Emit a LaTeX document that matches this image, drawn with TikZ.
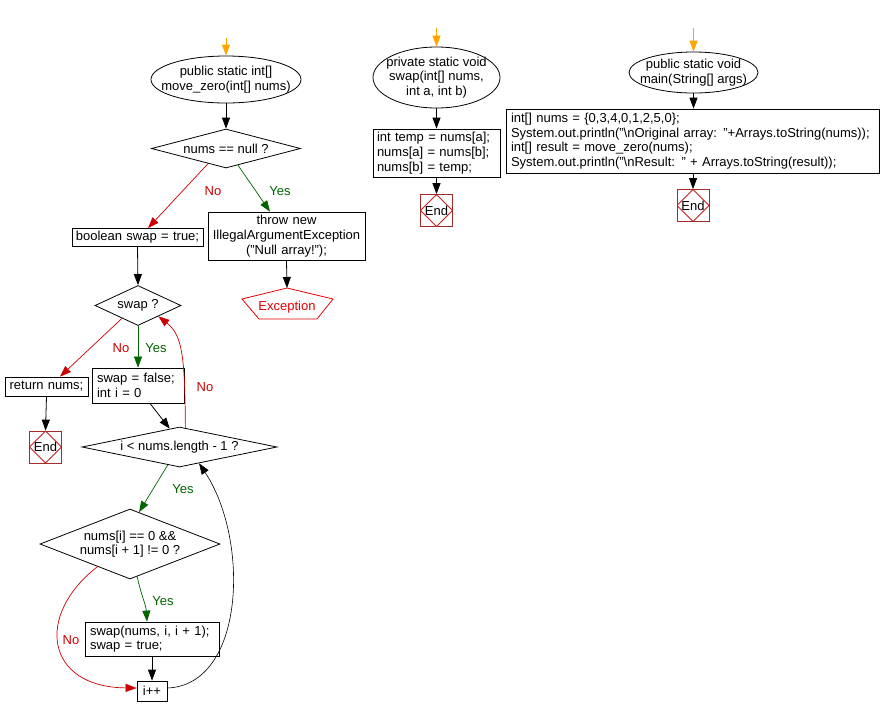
\documentclass[tikz,border=0pt]{standalone}
\usepackage{fontspec}
\setmainfont{Liberation Sans}
\usetikzlibrary{shapes.geometric,arrows.meta,calc}
\definecolor{nored}{RGB}{204,0,0}
\definecolor{yesgreen}{RGB}{0,100,0}
\definecolor{startorange}{RGB}{255,165,0}
\definecolor{endbrown}{RGB}{165,42,42}
\definecolor{endred}{RGB}{200,30,30}
\definecolor{excred}{RGB}{230,0,0}
\tikzset{
  every node/.style={font=\fontsize{13}{14.7}\selectfont},
  ell/.style 2 args={ellipse, draw, line width=0.8pt, minimum width=#1, minimum height=#2, inner sep=0},
  dia/.style 2 args={diamond, draw, line width=0.8pt, minimum width=#1, minimum height=#2, inner sep=0},
  inlbl/.style={align=center, inner sep=0},
  box/.style={rectangle, draw, line width=0.8pt, inner ysep=0pt},
  lbox/.style={box, align=left},
  cbox/.style={box, align=center, inner xsep=3pt},
  endbox/.style={rectangle, draw=endbrown, line width=0.8pt, minimum size=32pt, inner sep=0,
    path picture={\draw[endred, line width=0.8pt] (path picture bounding box.north) -- (path picture bounding box.east) -- (path picture bounding box.south) -- (path picture bounding box.west) -- cycle;}},
  tip/.style={-{Triangle[length=11pt,width=8pt]}},
  flow/.style={tip, line width=0.8pt, black},
  noflow/.style={tip, line width=0.7pt, nored},
  yesflow/.style={tip, line width=0.7pt, yesgreen},
  startflow/.style={tip, line width=1pt, startorange},
  nolbl/.style={text=nored, inner sep=0},
  yeslbl/.style={text=yesgreen, inner sep=0},
}
\begin{document}
\begin{tikzpicture}[x=1pt,y=-1pt]
\useasboundingbox[fill=white] (0,0) rectangle (882,716);

% ---------- left flow: move_zero ----------
\coordinate (s1) at (226,38);
\node[ell={150pt}{47pt}] (m1) at (226,79.5) {};
\node[inlbl] (m1t) at (m1.center) {public static int[]\\move\_zero(int[] nums)};
\node[dia={149pt}{39pt}] (d1) at (226,148.5) {};
\node[inlbl] (d1t) at (d1.center) {nums == null ?};
\node[cbox, text width=125pt, minimum height=18pt] (b1) at (137.5,237.5) {boolean swap = true;};
\node[cbox, text width=151pt, minimum height=48pt] (t1) at (286.5,236) {throw new\\IllegalArgumentException\\("Null array!");};
\coordinate (exTop) at (287,288);
\draw[excred, line width=0.8pt] (exTop) -- (333,299) -- (317,319) -- (259,319) -- (242,299) -- cycle;
\node[text=excred, inner sep=0] (ex) at (287,307) {Exception};

\node[dia={86pt}{40pt}] (d2) at (138,305.5) {};
\node[inlbl] (d2t) at (d2.center) {swap ?};
\node[cbox, text width=77pt, minimum height=19pt] (r1) at (46.5,386.5) {return nums;};
\node[endbox] (e1) at (45.5,447) {};
\node[inlbl] (e1t) at (e1.center) {End};
\node[lbox, inner xsep=5pt, text width=82pt, minimum height=35pt] (b2) at (138,385.5) {swap = false;\\int i = 0};

\node[dia={195pt}{40pt}] (d3) at (179.5,447) {};
\node[inlbl] (d3t) at (d3.center) {i < nums.length - 1 ?};
\node[dia={180pt}{70pt}] (d4) at (130,544) {};
\node[inlbl] (d4t) at (d4.center) {nums[i] == 0 \&\&\\nums[i + 1] != 0 ?};
\node[lbox, inner xsep=5pt, text width=124pt, minimum height=34pt] (b3) at (152,639) {swap(nums, i, i + 1);\\swap = true;};
\node[cbox, text width=24pt, minimum height=20pt] (inc) at (152,691) {i++};

\draw[startflow] (s1) -- (m1.north);
\draw[flow] (m1.south) -- (d1.north);
\draw[noflow] ($(d1.south)!0.24!(d1.west)$) -- ($(b1.north)+(10.5,0)$);
\draw[yesflow] ($(d1.south)!0.16!(d1.east)$) -- ($(t1.north)+(-16.5,0)$);
\node[nolbl] (l1) at (213,191.5) {No};
\node[yeslbl] (l2) at (280,191.5) {Yes};
\draw[flow] (t1.south) -- (exTop);
\draw[flow] (b1.south) -- (d2.north);
\draw[noflow] ($(d2.south)!0.37!(d2.west)$) -- ($(r1.north)+(13.5,0)$);
\draw[yesflow] (d2.south) -- (b2.north);
\node[nolbl] (l3) at (121,348) {No};
\node[yeslbl] (l4) at (156,348) {Yes};
\draw[flow] (r1.south) -- (e1.north);
\draw[flow] ($(b2.south)+(12,0)$) -- ($(d3.north)!0.1!(d3.west)$);
\draw[noflow] ($(d3.north)!0.06!(d3.east)$) .. controls (185,355) and (182,335) .. ($(d2.south)!0.47!(d2.east)$);
\node[nolbl] (l5) at (205,387) {No};
\draw[yesflow] ($(d3.south)!0.12!(d3.west)$) -- ($(d4.north)!0.1!(d4.east)$);
\node[yeslbl] (l6) at (183,489) {Yes};
\draw[yesflow] ($(d4.south)!0.08!(d4.east)$) .. controls (141,595) and (146,605) .. ($(b3.north)+(-5,0)$);
\node[yeslbl] (l7) at (163,601) {Yes};
\draw[flow] (b3.south) -- (inc.north);
\draw[noflow] ($(d4.south)!0.36!(d4.west)$) .. controls (35,615) and (45,687) .. ($(inc.west)+(0,-3)$);
\node[nolbl] (l8) at (71,640) {No};
\draw[flow, line width=0.6pt] ($(inc.east)+(0,-3)$) .. controls (245,685) and (250,540) .. ($(d3.south)!0.2!(d3.east)$);

% ---------- middle flow: swap ----------
\coordinate (s2) at (436.5,28);
\node[ell={127pt}{61pt}] (m2) at (436.5,77.5) {};
\node[inlbl] (m2t) at (m2.center) {private static void\\swap(int[] nums,\\int a, int b)};
\node[lbox, inner xsep=4pt, text width=119pt, minimum height=48pt] (b4) at (436.5,153) {int temp = nums[a];\\nums[a] = nums[b];\\nums[b] = temp;};
\node[endbox] (e2) at (436.5,210.5) {};
\node[inlbl] (e2t) at (e2.center) {End};
\draw[startflow] (s2) -- (m2.north);
\draw[flow] (m2.south) -- (b4.north);
\draw[flow] (b4.south) -- (e2.north);

% ---------- right flow: main ----------
\coordinate (s3) at (693.5,28);
\node[ell={129pt}{41pt}] (m3) at (693.5,72.5) {};
\node[inlbl] (m3t) at (m3.center) {public static void\\main(String[] args)};
\node[lbox, inner xsep=5pt, text width=363pt, minimum height=64pt] (b5) at (692.5,141) {\mbox{int[] nums = \{0,3,4,0,1,2,5,0\};}\\\mbox{System.out.println("\textbackslash nOriginal array: "+Arrays.toString(nums));}\\\mbox{int[] result = move\_zero(nums);}\\\mbox{System.out.println("\textbackslash nResult: " + Arrays.toString(result));}};
\node[endbox] (e3) at (693,205.5) {};
\node[inlbl] (e3t) at (e3.center) {End};
\draw[startflow] (s3) -- (m3.north);
\draw[flow] (m3.south) -- (b5.north -| m3.south);
\draw[flow] (b5.south -| e3.north) -- (e3.north);
\end{tikzpicture}
\end{document}
